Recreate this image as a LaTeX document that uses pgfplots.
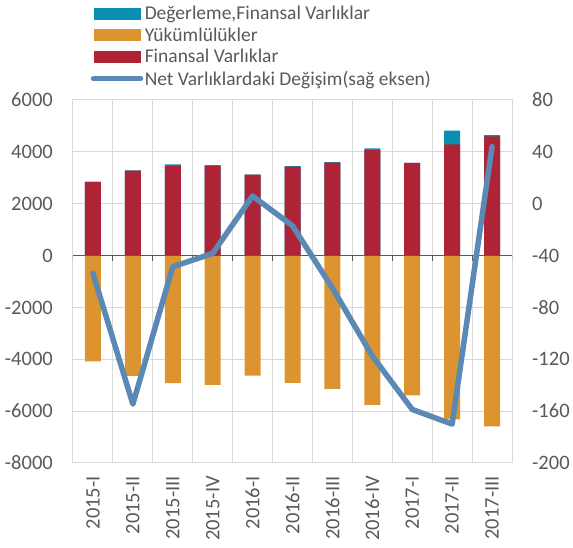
\documentclass[border=0pt]{standalone}
\usepackage{fontspec}
\setmainfont{Carlito}
\usepackage{pgfplots}
\pgfplotsset{compat=1.18}

\definecolor{deg}{HTML}{0A8FB0}
\definecolor{yuk}{HTML}{DC9430}
\definecolor{fin}{HTML}{AE2436}
\definecolor{net}{HTML}{5B89B5}
\definecolor{grd}{HTML}{D9D9D9}
\definecolor{txt}{HTML}{595959}

\pgfplotsset{
  swatch/.style={legend image code/.code={\fill[##1] (0pt,-6pt) rectangle (47pt,6pt);}},
  netleg/.style={legend image code/.code={\draw[##1, line cap=round] (0pt,0pt) -- (47pt,0pt);}},
  common/.style={
    scale only axis, width=439pt, height=363pt,
    at={(0,0)}, anchor=south west,
    xmin=-0.5, xmax=10.5,
    major tick length=0pt, minor tick length=0pt,
    tick label style={text=txt, font=\fontsize{20.5}{24}\selectfont},
    /pgf/number format/assume math mode=true,
    /pgf/number format/1000 sep={},
  },
}

\begin{document}
\begin{tikzpicture}
\useasboundingbox (-73pt,-85pt) rectangle (500pt,463pt);
\begin{axis}[
  common,
  ybar, bar width=16pt, bar shift=0pt,
  ymin=-8000, ymax=6000, ytick={-8000,-6000,...,6000},
  xtick={0,...,10},
  xticklabels={2015-I,2015-II,2015-III,2015-IV,2016-I,2016-II,2016-III,2016-IV,2017-I,2017-II,2017-III},
  xticklabel style={rotate=90, anchor=east, inner sep=0pt},
  xticklabel shift=13pt,
  yticklabel style={inner sep=0pt},
  yticklabel shift=20pt,
  minor xtick={-0.5,0.5,...,10.5},
  xminorgrids=true, ymajorgrids=true,
  grid style={grd, line width=1pt},
  minor grid style={grd, line width=1pt},
  axis line style={grd, line width=1pt},
  legend style={draw=none, fill=none, at={(0.04,1.263)}, anchor=north west,
    font=\fontsize{19.5}{22}\selectfont, text=txt, inner sep=0pt,
    nodes={inner sep=1.5pt}, row sep=3.5pt, cells={anchor=west}},
]
% Degerleme drawn as total height (Finansal + Degerleme)
\addplot[fill=deg, draw=none, swatch] coordinates {
  (0,2855) (1,3290) (2,3520) (3,3480) (4,3120) (5,3450)
  (6,3600) (7,4135) (8,3570) (9,4820) (10,4640)};
\addplot[fill=yuk, draw=none, swatch] coordinates {
  (0,-4080) (1,-4640) (2,-4920) (3,-4990) (4,-4630) (5,-4910)
  (6,-5140) (7,-5760) (8,-5390) (9,-6320) (10,-6590)};
\addplot[fill=fin, draw=none, swatch] coordinates {
  (0,2835) (1,3275) (2,3470) (3,3480) (4,3120) (5,3430)
  (6,3585) (7,4070) (8,3570) (9,4290) (10,4600)};
\addlegendimage{net, line width=5.5pt, netleg}
\legend{Değerleme{,}Finansal Varlıklar, Yükümlülükler, Finansal Varlıklar, Net Varlıklardaki Değişim(sağ eksen)}
\draw[txt, line width=1pt] (axis cs:-0.5,0) -- (axis cs:10.5,0);
\pgfplotsinvokeforeach{0,...,11}{
  \draw[txt, line width=1pt] (axis cs:#1-0.5,0) -- ++(0pt,-5pt);
}
\end{axis}
\begin{axis}[
  common,
  ymin=-200, ymax=80, ytick={-200,-160,...,80},
  axis y line*=right, axis x line=none,
  y axis line style={draw=none},
  yticklabel style={inner sep=0pt, anchor=west},
  yticklabel shift=20pt,
]
\addplot[net, line width=5.5pt, line join=round, line cap=round] coordinates {
  (0,-53.7) (1,-154.6) (2,-48.6) (3,-38.3) (4,5.9) (5,-17)
  (6,-65) (7,-117.5) (8,-158.7) (9,-170) (10,44)};
\end{axis}
\end{tikzpicture}
\end{document}
